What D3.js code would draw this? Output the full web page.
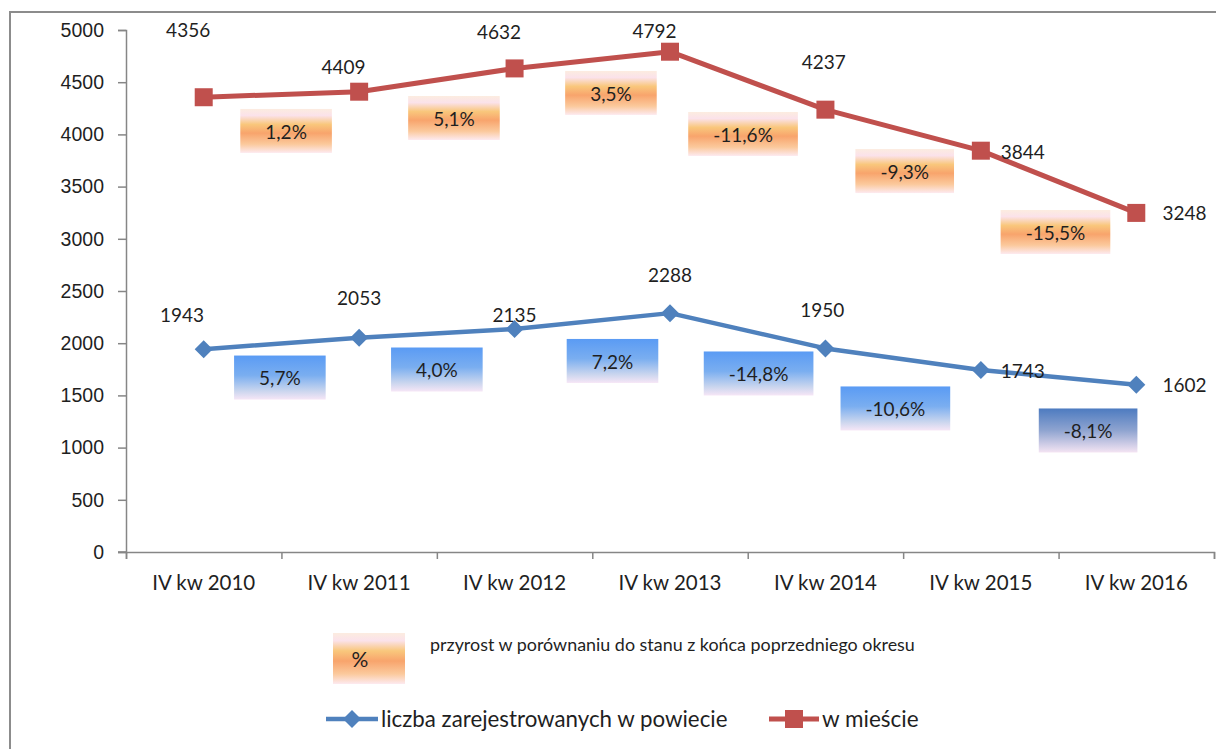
<!DOCTYPE html>
<html>
<head>
<meta charset="utf-8">
<script src="https://cdn.jsdelivr.net/npm/d3@7"></script>
<style>
  html, body { margin: 0; padding: 0; background: #fff; }
  svg { display: block; font-family: Lato, "Open Sans", sans-serif; }
</style>
</head>
<body>
<svg id="chart" width="1216" height="749"></svg>
<script>
const categories = ["IV kw 2010", "IV kw 2011", "IV kw 2012", "IV kw 2013", "IV kw 2014", "IV kw 2015", "IV kw 2016"];
const countyValues = [1943, 2053, 2135, 2288, 1950, 1743, 1602];
const cityValues = [4356, 4409, 4632, 4792, 4237, 3844, 3248];
const countyChange = ["5,7%", "4,0%", "7,2%", "-14,8%", "-10,6%", "-8,1%"];
const cityChange = ["1,2%", "5,1%", "3,5%", "-11,6%", "-9,3%", "-15,5%"];
const yTicks = [0, 500, 1000, 1500, 2000, 2500, 3000, 3500, 4000, 4500, 5000];

// where the text boxes and data labels sit, as [category index, value]
const cityChangeAt = [[0.53, 4033], [1.61, 4157], [2.62, 4397], [3.47, 4004], [4.51, 3649], [5.48, 3065]];
const countyChangeAt = [[0.49, 1671], [1.5, 1748], [2.63, 1830], [3.57, 1710], [4.45, 1375], [5.69, 1164]];
const cityLabelAt = [[-0.1, 5000], [0.9, 4646], [1.9, 4981], [2.9, 4990], [3.99, 4693], [5.27, 3831], [6.31, 3247]];
const countyLabelAt = [[-0.14, 2270], [1.0, 2433], [2.0, 2262], [3.0, 2653], [3.98, 2318], [5.27, 1734], [6.31, 1600]];

const legendNote = "przyrost w porównaniu do stanu z końca poprzedniego okresu";
const seriesNames = ["liczba zarejestrowanych w powiecie", "w mieście"];

const svg = d3.select("#chart");
const plotLeft = 126, plotRight = 1214, plotTop = 30, plotBottom = 552;
const axisColor = "#868686";
const textColor = "#1f1f1f";
const blue = "#4f81bd", red = "#c0504d";

// frame of the chart area
svg.append("rect")
  .attr("x", 10).attr("y", 12)
  .attr("width", 1300).attr("height", 900)
  .attr("fill", "none").attr("stroke", "#8c8c8c").attr("stroke-width", 2);

// gradients
const defs = svg.append("defs");
const grad = (id, stops) => {
  const g = defs.append("linearGradient").attr("id", id)
    .attr("x1", 0).attr("y1", 0).attr("x2", 0).attr("y2", 1);
  stops.forEach(([o, c]) => g.append("stop").attr("offset", o).attr("stop-color", c));
};
grad("peach", [[0, "#fcece0"], [0.15, "#fbe2ea"], [0.35, "#f9c77c"], [0.55, "#f8a46c"], [0.8, "#fbc99c"], [1, "#fdeaf0"]]);
grad("sky", [[0, "#5a9bf4"], [0.45, "#7aaef0"], [0.8, "#c9d5ee"], [1, "#f6e6f6"]]);
grad("navy", [[0, "#4d7bc0"], [0.5, "#8fa4d0"], [1, "#f4e4f3"]]);

const x = d3.scaleLinear().domain([-0.5, categories.length - 0.5]).range([plotLeft, plotRight]);
const y = d3.scaleLinear().domain([0, 5000]).range([plotBottom, plotTop]);

// y axis
const yAxis = svg.append("g")
  .attr("transform", `translate(${plotLeft},0)`)
  .call(d3.axisLeft(y).tickValues(yTicks).tickFormat(d3.format("d")).tickSize(8).tickPadding(14));
yAxis.select(".domain").attr("stroke", axisColor).attr("stroke-width", 1.5);
yAxis.selectAll(".tick line").attr("stroke", axisColor).attr("stroke-width", 1.5);
yAxis.selectAll("text").attr("font-size", 19.5).attr("fill", textColor).attr("font-family", null);

// x axis: ticks between categories, labels centred
const xAxis = svg.append("g")
  .attr("transform", `translate(0,${plotBottom})`)
  .call(d3.axisBottom(x).tickValues(d3.range(-0.5, categories.length, 1)).tickSize(7).tickFormat(""));
xAxis.select(".domain").attr("stroke", axisColor).attr("stroke-width", 1.5);
xAxis.selectAll(".tick line").attr("stroke", axisColor).attr("stroke-width", 1.5);
svg.append("line")
  .attr("x1", plotLeft - 8).attr("x2", plotLeft).attr("y1", plotBottom).attr("y2", plotBottom)
  .attr("stroke", axisColor).attr("stroke-width", 1.5);

svg.append("g").selectAll("text")
  .data(categories)
  .join("text")
  .attr("x", (d, i) => x(i))
  .attr("y", plotBottom + 31)
  .attr("dy", "0.35em")
  .attr("text-anchor", "middle")
  .attr("font-size", 20.5)
  .attr("fill", textColor)
  .text(d => d);

// percentage boxes
const drawBoxes = (labels, at, fillFor) => {
  const g = svg.append("g");
  labels.forEach((t, i) => {
    const cx = x(at[i][0]), cy = y(at[i][1]);
    const box = g.append("g");
    const rect = box.append("rect");
    const txt = box.append("text")
      .attr("x", cx).attr("y", cy + 1).attr("dy", "0.35em")
      .attr("text-anchor", "middle")
      .attr("font-size", 19)
      .attr("fill", textColor)
      .text(t);
    const w = txt.node().getComputedTextLength() + 50;
    rect.attr("x", cx - w / 2).attr("y", cy - 22)
      .attr("width", w).attr("height", 44)
      .attr("fill", fillFor(i));
  });
};
drawBoxes(cityChange, cityChangeAt, () => "url(#peach)");
drawBoxes(countyChange, countyChangeAt, i => i === countyChange.length - 1 ? "url(#navy)" : "url(#sky)");

// lines
const line = d3.line().x((d, i) => x(i)).y(d => y(d));

svg.append("path").datum(countyValues)
  .attr("d", line).attr("fill", "none")
  .attr("stroke", blue).attr("stroke-width", 4.5).attr("stroke-linejoin", "round");
svg.append("g").selectAll("path")
  .data(countyValues)
  .join("path")
  .attr("transform", (d, i) => `translate(${x(i)},${y(d)})`)
  .attr("d", "M0,-9L9,0L0,9L-9,0Z")
  .attr("fill", blue);

svg.append("path").datum(cityValues)
  .attr("d", line).attr("fill", "none")
  .attr("stroke", red).attr("stroke-width", 5).attr("stroke-linejoin", "round");
svg.append("g").selectAll("rect")
  .data(cityValues)
  .join("rect")
  .attr("x", (d, i) => x(i) - 9)
  .attr("y", d => y(d) - 9)
  .attr("width", 18).attr("height", 18)
  .attr("fill", red);

// data labels
const drawLabels = (values, at) => {
  svg.append("g").selectAll("text")
    .data(values)
    .join("text")
    .attr("x", (d, i) => x(at[i][0]))
    .attr("y", (d, i) => y(at[i][1]))
    .attr("dy", "0.35em")
    .attr("text-anchor", "middle")
    .attr("font-size", 19)
    .attr("fill", textColor)
    .text(d => d);
};
drawLabels(cityValues, cityLabelAt);
drawLabels(countyValues, countyLabelAt);

// legend: % box
const lg = svg.append("g");
lg.append("rect")
  .attr("x", 333).attr("y", 633).attr("width", 72).attr("height", 51)
  .attr("fill", "url(#peach)");
lg.append("text")
  .attr("x", 360).attr("y", 660).attr("dy", "0.35em")
  .attr("text-anchor", "middle").attr("font-size", 21).attr("fill", textColor)
  .text("%");
lg.append("text")
  .attr("x", 430).attr("y", 645).attr("dy", "0.35em")
  .attr("font-size", 17.9).attr("fill", textColor)
  .text(legendNote);

// legend: series
const ly = 719;
lg.append("line").attr("x1", 326).attr("x2", 378).attr("y1", ly).attr("y2", ly)
  .attr("stroke", blue).attr("stroke-width", 4.5);
lg.append("path").attr("transform", `translate(352,${ly})`)
  .attr("d", "M0,-9L9,0L0,9L-9,0Z").attr("fill", blue);
lg.append("text").attr("x", 381).attr("y", ly).attr("dy", "0.35em")
  .attr("font-size", 22.3).attr("fill", textColor).text(seriesNames[0]);

lg.append("line").attr("x1", 769).attr("x2", 819).attr("y1", ly).attr("y2", ly)
  .attr("stroke", red).attr("stroke-width", 5);
lg.append("rect").attr("x", 785).attr("y", ly - 9).attr("width", 18).attr("height", 18)
  .attr("fill", red);
lg.append("text").attr("x", 822).attr("y", ly).attr("dy", "0.35em")
  .attr("font-size", 22.5).attr("fill", textColor).text(seriesNames[1]);
</script>
</body>
</html>
